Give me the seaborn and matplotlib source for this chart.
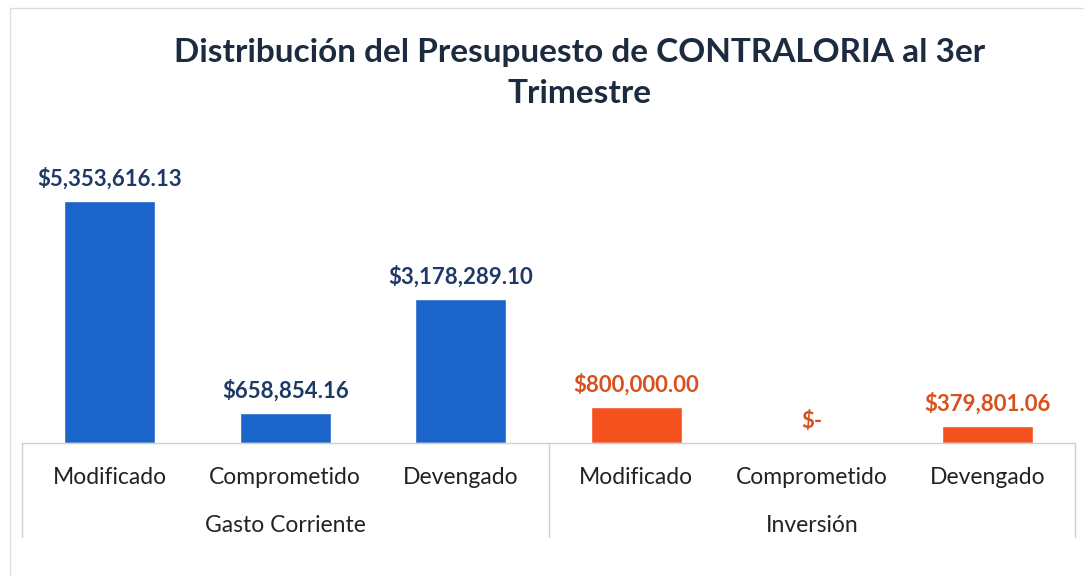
import matplotlib.pyplot as plt
import matplotlib.transforms as mtransforms
import matplotlib.patches as mpatches
import seaborn as sns
import pandas as pd

# datos del presupuesto
groups = ["Gasto Corriente", "Gasto Corriente", "Gasto Corriente",
          "Inversión", "Inversión", "Inversión"]
stages = ["Modificado", "Comprometido", "Devengado",
          "Modificado", "Comprometido", "Devengado"]
values = [5353616.13, 658854.16, 3178289.10,
          800000.00, 0.0, 379801.06]
group_names = ["Gasto Corriente", "Inversión"]

bar_colors = {"Gasto Corriente": "#1b64c9", "Inversión": "#f4511e"}
label_colors = {"Gasto Corriente": "#1d3a66", "Inversión": "#d9501c"}

sns.set_theme(style="white")
plt.rcParams['font.family'] = ['Lato', 'DejaVu Sans']

df = pd.DataFrame({"grupo": groups, "etapa": stages, "valor": values})
df["pos"] = [f"{g}|{s}" for g, s in zip(groups, stages)]

fig = plt.figure(figsize=(10.84, 5.76), dpi=100)
ax = fig.add_axes([0.0203, 0.231, 0.9714, 0.509])

sns.barplot(data=df, x="pos", y="valor", hue="grupo", palette=bar_colors,
            order=list(df["pos"]), width=0.52, saturation=1, legend=False, ax=ax)

ax.set_xlim(-0.5, 5.5)
ax.set_ylim(0, 6.48e6)
ax.set_xlabel("")
ax.set_ylabel("")
ax.set_yticks([])
ax.set_xticks(range(len(stages)))
ax.set_xticklabels(stages, fontsize=16.5, color="#222222")
ax.tick_params(axis="x", length=0, pad=17)
for side in ["top", "left", "right"]:
    ax.spines[side].set_visible(False)
ax.spines["bottom"].set_color("#cfcfcf")
ax.spines["bottom"].set_linewidth(1)

# etiquetas de valor
for i, (g, v) in enumerate(zip(groups, values)):
    txt = f"${v:,.2f}" if v > 0 else "$-"
    ax.annotate(txt, (i, v), xytext=(0, 8), textcoords="offset points",
                ha="center", va="bottom", fontsize=16, fontweight="bold",
                color=label_colors[g])

# etiquetas de grupo y separadores
trans = mtransforms.blended_transform_factory(ax.transData, ax.transAxes)
for k, name in enumerate(group_names):
    idx = [i for i, g in enumerate(groups) if g == name]
    xc = sum(idx) / len(idx)
    ax.text(xc, -0.283, name, transform=trans, ha="center", va="center",
            fontsize=16.5, color="#222222")
for xs in [-0.5, 2.5, 5.5]:
    ax.plot([xs, xs], [0, -0.32], transform=trans, color="#cfcfcf",
            lw=1, clip_on=False)

# borde del area del grafico
fig.patches.append(mpatches.Rectangle((0.009, -0.05), 1.2, 1.036,
                                      transform=fig.transFigure,
                                      fill=False, edgecolor="#dddddd", lw=1))

fig.text(0.535, 0.873, "Distribución del Presupuesto de CONTRALORIA al 3er\nTrimestre",
         ha="center", va="center", fontsize=24, fontweight="bold",
         color="#1c2b40", linespacing=1.5)

fig.savefig("out.png", dpi=100, facecolor="white")
